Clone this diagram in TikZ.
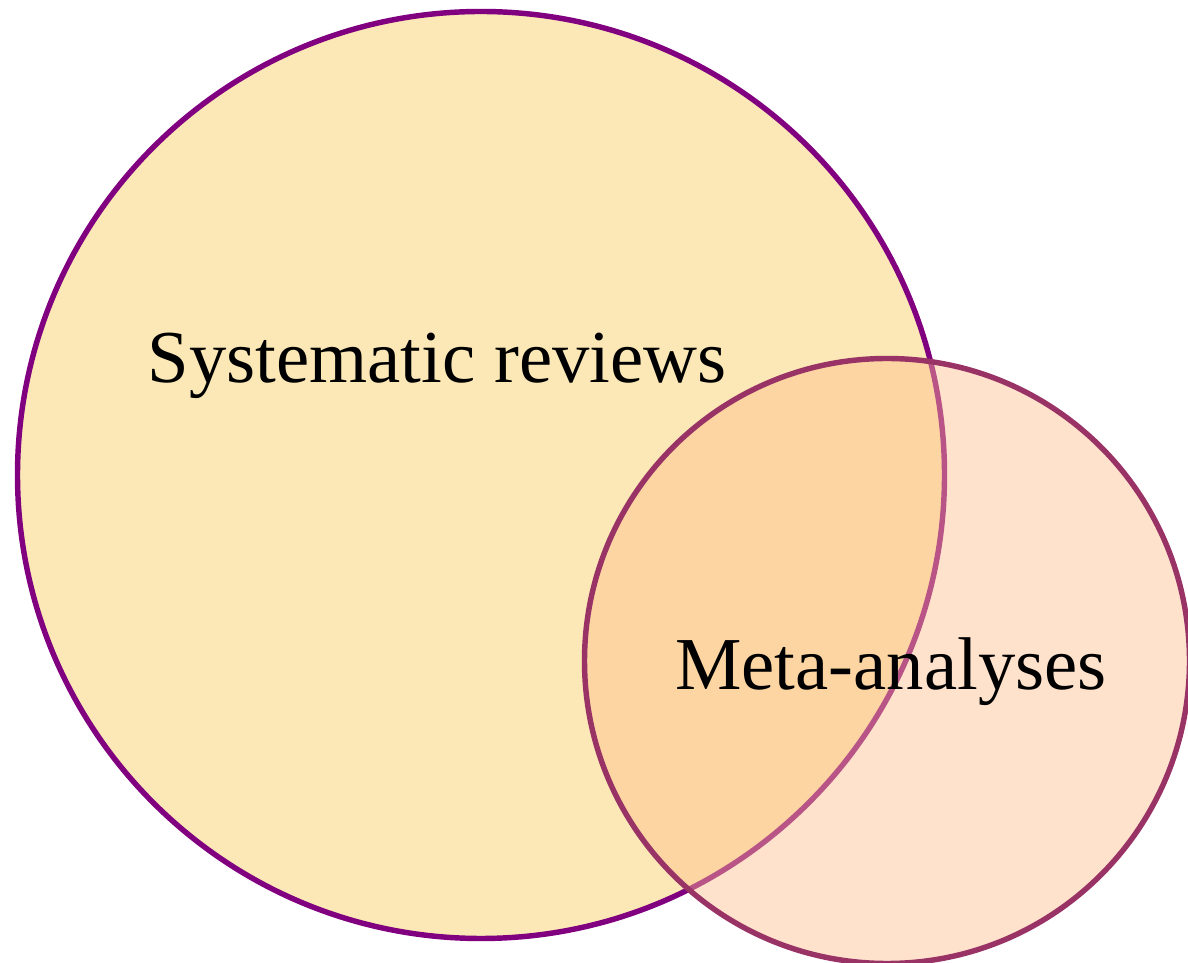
\documentclass[tikz,border=0pt]{standalone}
\usepackage{fontspec}
\setmainfont{Liberation Serif}
\definecolor{srfill}{HTML}{FBE8B6}
\definecolor{srline}{HTML}{800080}
\definecolor{mafill}{HTML}{FFBE8E}
\definecolor{maline}{HTML}{993366}
\begin{document}
\begin{tikzpicture}
\useasboundingbox (0,0) rectangle (23.76,19.26); % page
\node[draw=srline, fill=srfill, circle, line width=3.1pt, inner sep=0pt, minimum size=18.54cm] at (9.62,9.76) (sr){}; % big circle
\node[draw=maline, fill=mafill, fill opacity=0.45, circle, line width=3.1pt, inner sep=0pt, minimum size=12.1cm] at (17.74,6.04) (ma){}; % small circle
\node[anchor=base, font=\fontsize{42.5}{48}\selectfont] at (8.74,11.6) (srlabel){Systematic reviews};
\node[anchor=base, font=\fontsize{42.5}{48}\selectfont] at (17.82,5.46) (malabel){Meta-analyses};
\end{tikzpicture}
\end{document}
